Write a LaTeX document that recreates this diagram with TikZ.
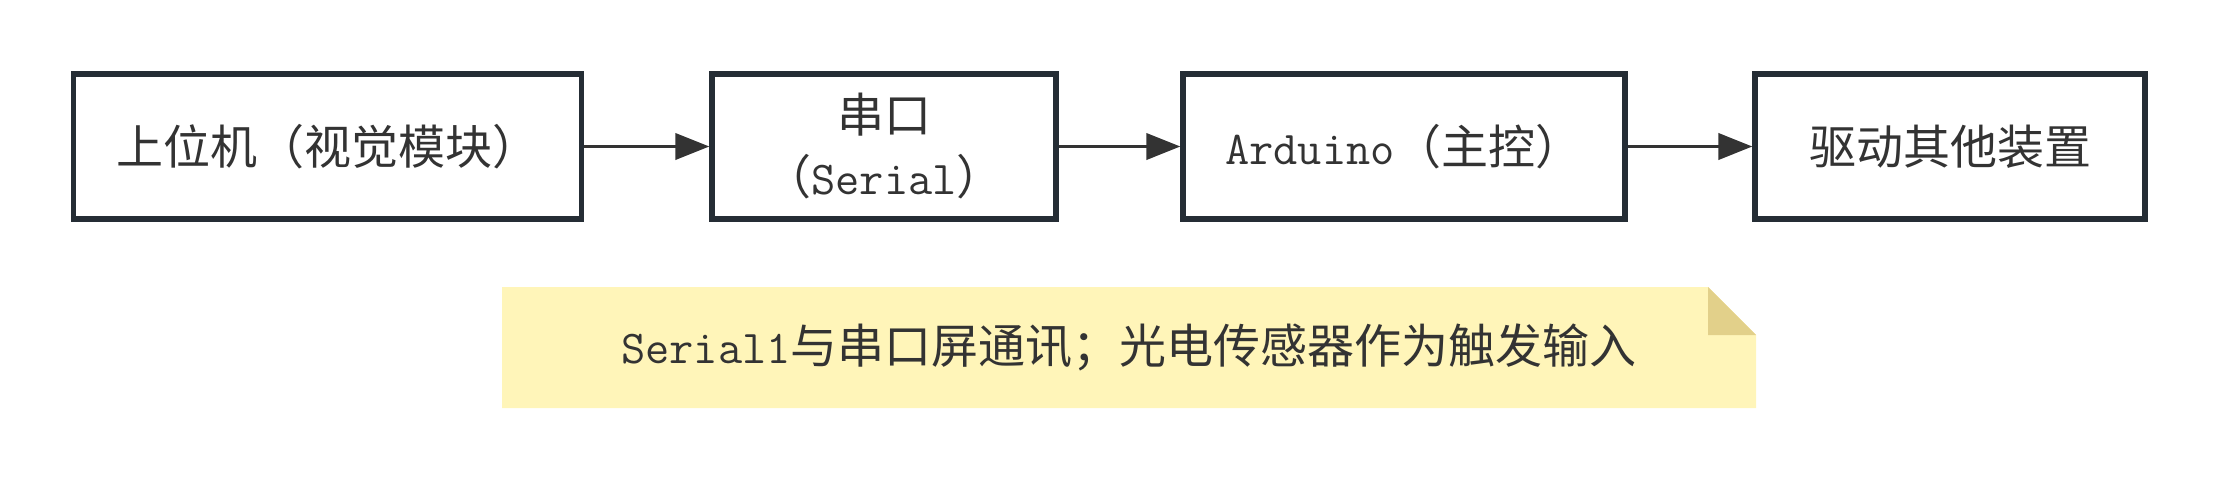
\documentclass[tikz,border=0pt]{standalone}
\usepackage{fontspec}
\newfontfamily\cjk{Noto Sans CJK SC}
\usetikzlibrary{arrows.meta}
\definecolor{bordercol}{HTML}{252D35}
\definecolor{txtcol}{HTML}{333333}
\definecolor{notefill}{HTML}{FFF5B9}
\definecolor{notefold}{HTML}{E2D08A}
\begin{document}
\begin{tikzpicture}[x=0.5pt,y=-0.5pt,
  box/.style={draw=bordercol, line width=2.6pt, fill=white, minimum height=72.5pt,
    inner sep=0pt, text=txtcol, align=center, font=\fontsize{23.5}{31}\selectfont},
  flow/.style={draw=txtcol, line width=1.9pt, -{Triangle[length=17pt,width=13pt]}},
  notetext/.style={inner sep=0pt, text=txtcol, font=\fontsize{23.5}{31}\selectfont}]
\useasboundingbox (0,0) rectangle (2219,482);
% note shape
\fill[notefill] (502,287) -- (1708,287) -- (1756,335) -- (1756,408) -- (502,408) -- cycle;
\fill[notefold] (1708,287) -- (1708,335) -- (1756,335) -- cycle;
\node[notetext] (note) at (1129,347.5) {{\ttfamily Serial1}{\cjk 与串口屏通讯；光电传感器作为触发输入}};
% boxes
\node[box, minimum width=254pt] (pc) at (327.5,146.5) {\cjk 上位机（视觉模块）};
\node[box, minimum width=172pt] (ser) at (884,146.5) {{\cjk 串口}\\{\cjk （}{\ttfamily Serial}{\cjk ）}};
\node[box, minimum width=221pt] (ard) at (1404,146.5) {{\ttfamily Arduino}{\cjk （主控）}};
\node[box, minimum width=195pt] (drv) at (1950,146.5) {\cjk 驱动其他装置};
% connectors
\draw[flow] (pc) -- (ser);
\draw[flow] (ser) -- (ard);
\draw[flow] (ard) -- (drv);
\end{tikzpicture}
\end{document}
